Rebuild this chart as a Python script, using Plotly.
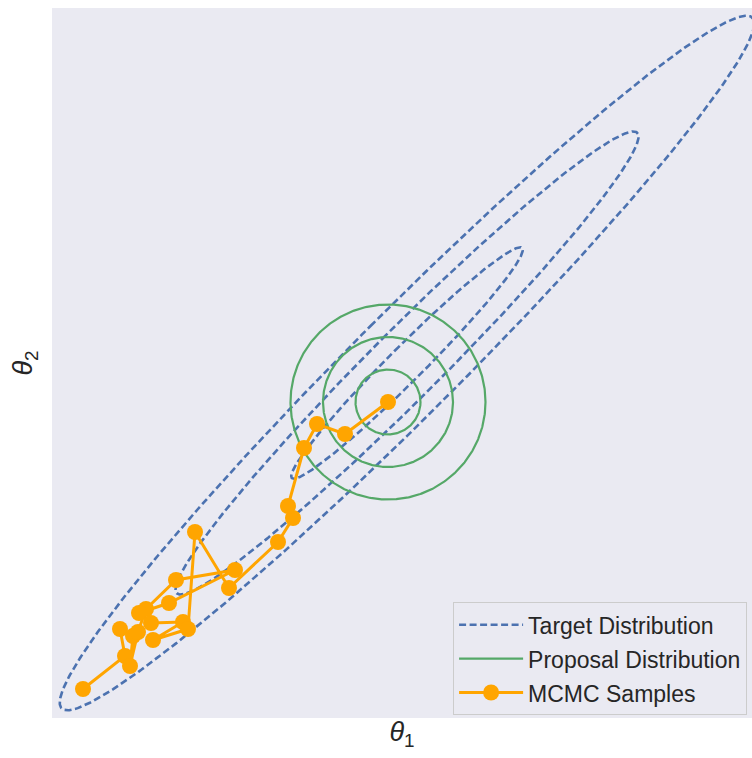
import numpy as np
import plotly.graph_objects as go

# ---- data ----
target_mean = [0.0, 0.0]
target_cov = [[1.34, 1.31], [1.31, 1.34]]
target_levels = [1, 2, 3]

proposal_sd = 0.325
proposal_levels = [1, 2, 3]

sample_x = [-3.24, -2.82, -2.87, -2.74, -2.77, -2.69, -2.61, -2.31, -1.72, -2.38,
            -2.68, -2.56, -2.24, -2.54, -2.19, -2.12, -1.78, -1.29, -1.14, -1.19,
            -1.03, -0.90, -0.62, -0.19]
sample_y = [-3.26, -2.93, -2.66, -2.73, -3.03, -2.69, -2.46, -2.17, -2.07, -2.40,
            -2.50, -2.60, -2.59, -2.77, -2.66, -1.69, -2.25, -1.79, -1.55, -1.43,
            -0.85, -0.61, -0.71, -0.39]

x_range = [-3.55, 3.45]
y_range = [-3.55, 3.55]


def ellipse(mean, cov, r, n=500):
    vals, vecs = np.linalg.eigh(np.array(cov, dtype=float))
    t = np.linspace(0, 2 * np.pi, n)
    circ = np.vstack([np.cos(t), np.sin(t)])
    pts = vecs @ (np.sqrt(vals)[:, None] * circ) * r
    return pts[0] + mean[0], pts[1] + mean[1]


def join(curves):
    xs, ys = [], []
    for cx, cy in curves:
        xs += list(cx) + [None]
        ys += list(cy) + [None]
    return xs, ys


tx, ty = join([ellipse(target_mean, target_cov, r) for r in target_levels])
pc = [sample_x[-1], sample_y[-1]]
pcov = [[proposal_sd ** 2, 0], [0, proposal_sd ** 2]]
px, py = join([ellipse(pc, pcov, r) for r in proposal_levels])

fig = go.Figure()
fig.add_trace(go.Scatter(x=tx, y=ty, mode="lines", name="Target Distribution",
                         line=dict(color="#4C72B0", width=2.6, dash="7px,3.5px"),
                         legendgroup="a", hoverinfo="skip"))
fig.add_trace(go.Scatter(x=px, y=py, mode="lines", name="Proposal Distribution",
                         line=dict(color="#55A868", width=2.2),
                         legendgroup="b", hoverinfo="skip"))
fig.add_trace(go.Scatter(x=sample_x, y=sample_y, mode="lines+markers", name="MCMC Samples",
                         line=dict(color="#FFA500", width=3),
                         marker=dict(color="#FFA500", size=16),
                         legendgroup="c"))

font = "Liberation Sans, Arial, sans-serif"
fig.update_layout(
    width=752, height=758,
    margin=dict(l=52, r=0, t=8, b=40),
    paper_bgcolor="white", plot_bgcolor="#EAEAF2",
    font=dict(family=font, color="#262626"),
    showlegend=True,
    legend=dict(x=0.573, y=0.163, xanchor="left", yanchor="top",
                bgcolor="rgba(234,234,242,0.85)", bordercolor="#CCCCCC", borderwidth=1,
                font=dict(size=23, family=font, color="#262626"),
                traceorder="grouped", tracegroupgap=1, itemwidth=64),
    xaxis=dict(range=x_range, showticklabels=False, showgrid=False, zeroline=False,
               ticks="", showline=False,
               title=dict(text="<i>θ</i><sub>1</sub>", font=dict(size=27, family=font),
                          standoff=4)),
    yaxis=dict(range=y_range, showticklabels=False, showgrid=False, zeroline=False,
               ticks="", showline=False,
               title=dict(text="<i>θ</i><sub>2</sub>", font=dict(size=27, family=font),
                          standoff=10)),
)

fig.write_html("out.html")
